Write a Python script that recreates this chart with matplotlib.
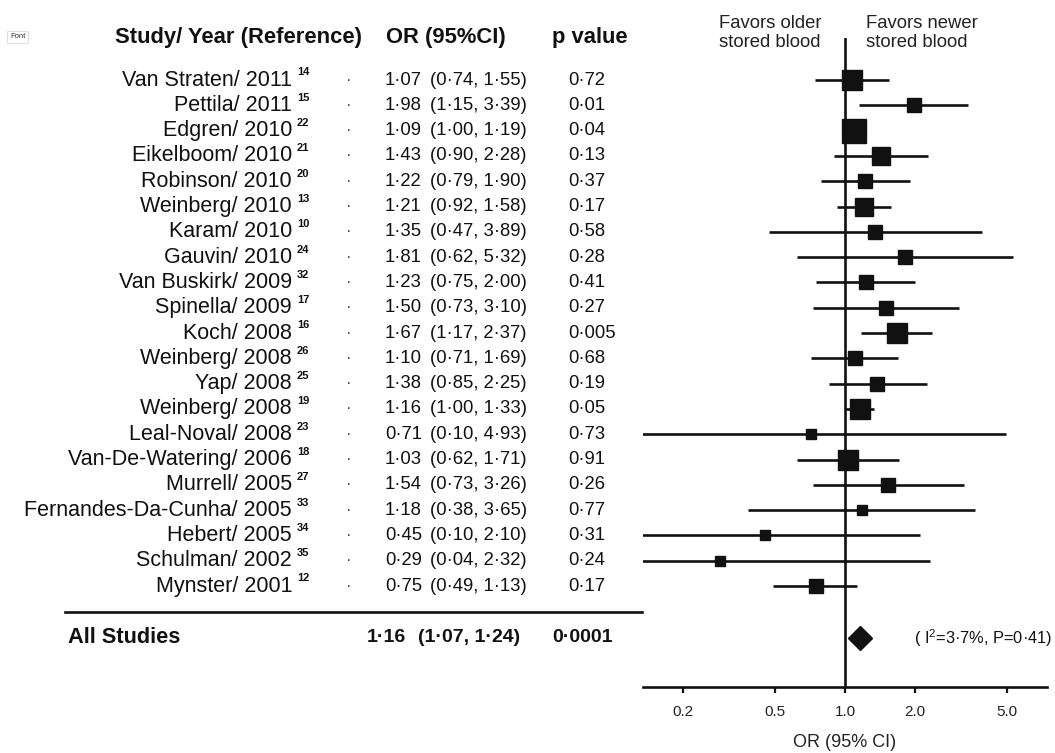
import matplotlib
matplotlib.use("Agg")
import matplotlib.pyplot as plt
import matplotlib.transforms as mtransforms
from matplotlib.lines import Line2D
import numpy as np

plt.rcParams['font.family'] = ['Liberation Sans', 'DejaVu Sans']
plt.rcParams['mathtext.fontset'] = 'custom'
plt.rcParams['mathtext.rm'] = 'Liberation Sans'
plt.rcParams['mathtext.it'] = 'Liberation Sans:italic'
plt.rcParams['mathtext.bf'] = 'Liberation Sans:bold'

# ---- data -------------------------------------------------------------
studies = ["Van Straten/ 2011", "Pettila/ 2011", "Edgren/ 2010", "Eikelboom/ 2010",
           "Robinson/ 2010", "Weinberg/ 2010", "Karam/ 2010", "Gauvin/ 2010",
           "Van Buskirk/ 2009", "Spinella/ 2009", "Koch/ 2008", "Weinberg/ 2008",
           "Yap/ 2008", "Weinberg/ 2008", "Leal-Noval/ 2008", "Van-De-Watering/ 2006",
           "Murrell/ 2005", "Fernandes-Da-Cunha/ 2005", "Hebert/ 2005",
           "Schulman/ 2002", "Mynster/ 2001"]
refs = ["14", "15", "22", "21", "20", "13", "10", "24", "32", "17", "16", "26",
        "25", "19", "23", "18", "27", "33", "34", "35", "12"]
odds = [1.07, 1.98, 1.09, 1.43, 1.22, 1.21, 1.35, 1.81, 1.23, 1.50, 1.67, 1.10,
        1.38, 1.16, 0.71, 1.03, 1.54, 1.18, 0.45, 0.29, 0.75]
ci_low = [0.74, 1.15, 1.00, 0.90, 0.79, 0.92, 0.47, 0.62, 0.75, 0.73, 1.17, 0.71,
          0.85, 1.00, 0.10, 0.62, 0.73, 0.38, 0.10, 0.04, 0.49]
ci_high = [1.55, 3.39, 1.19, 2.28, 1.90, 1.58, 3.89, 5.32, 2.00, 3.10, 2.37, 1.69,
           2.25, 1.33, 4.93, 1.71, 3.26, 3.65, 2.10, 2.32, 1.13]
p_values = ["0·72", "0·01", "0·04", "0·13", "0·37", "0·17", "0·58", "0·28", "0·41",
            "0·27", "0·005", "0·68", "0·19", "0·05", "0·73", "0·91", "0·26", "0·77",
            "0·31", "0·24", "0·17"]
# approximate study weights (%)
weights = [7.3, 4.1, 10.5, 6.6, 3.6, 5.9, 3.6, 4.1, 3.6, 4.1, 7.3, 3.6, 4.1, 7.3,
           1.8, 8.1, 4.1, 2.2, 2.2, 1.8, 4.1]

pooled_or, pooled_low, pooled_high = 1.16, 1.07, 1.24
pooled_p = "0·0001"
heterogeneity = "( I$^{2}$=3·7%, P=0·41)"
x_ticks = [0.2, 0.5, 1.0, 2.0, 5.0]
x_ticklabels = ["0.2", "0.5", "1.0", "2.0", "5.0"]


def fmt(v):
    return f"{v:.2f}".replace(".", "·")


# ---- figure -----------------------------------------------------------
W, H = 1055, 753
fig = plt.figure(figsize=(W / 100, H / 100), dpi=100)
fig.patch.set_facecolor("white")


def fx(px):
    return px / W


def fy(py):
    return 1 - py / H


ax_left, ax_right, ax_top, ax_bot = 643, 1047, 38, 687
ax = fig.add_axes([fx(ax_left), fy(ax_bot), (ax_right - ax_left) / W, (ax_bot - ax_top) / H])
ax.set_xscale("log")
ax.set_xlim(1 / 7.43, 7.43)
ax.set_ylim(23.99, -1.66)
ax.patch.set_alpha(0)
for s in ["top", "right", "left"]:
    ax.spines[s].set_visible(False)
ax.spines["bottom"].set_linewidth(1.9)
ax.spines["bottom"].set_color("#111111")
ax.set_yticks([])
ax.set_xticks(x_ticks)
ax.set_xticklabels(x_ticklabels)
ax.xaxis.set_minor_locator(matplotlib.ticker.NullLocator())
ax.tick_params(axis="x", direction="out", length=4, width=1.6, color="#111111",
               labelsize=11, pad=9, labelcolor="#222222")
ax.set_xlabel("OR (95% CI)", fontsize=13, color="#222222", labelpad=11)

ax.axvline(1.0, color="#111111", lw=1.9, zorder=1)

rows = np.arange(len(studies))
ink = "#111111"
for i in rows:
    ax.plot([ci_low[i], ci_high[i]], [i, i], color=ink, lw=1.9, solid_capstyle="butt",
            zorder=2, clip_on=True)
    side = 7.4 * np.sqrt(weights[i]) * 0.72
    ax.plot([odds[i]], [i], marker="s", ms=side - 0.6, color=ink, mec=ink, mew=1.0,
            zorder=3)

summary_row = 22.05
ax.plot([pooled_or], [summary_row], marker="D", ms=12, color=ink, zorder=3)

# ---- table columns ----------------------------------------------------
tr = mtransforms.blended_transform_factory(fig.transFigure, ax.transData)
fig.text(fx(914), summary_row, heterogeneity, transform=tr, ha="left", va="center",
         fontsize=11.8, color="#111111")

txt_col = "#111111"
for i in rows:
    fig.text(fx(292), i, studies[i], transform=tr, ha="right", va="center",
             fontsize=15.5, color=txt_col)
    fig.text(fx(297), i - 0.3, refs[i], transform=tr, ha="left", va="center",
             fontsize=8, fontweight="bold", color=txt_col)
    fig.text(fx(349), i, "·", transform=tr, ha="center", va="center",
             fontsize=12, color="#444444")
    fig.text(fx(385), i, fmt(odds[i]), transform=tr, ha="left", va="center",
             fontsize=13.3, color=txt_col)
    fig.text(fx(430), i, f"({fmt(ci_low[i])}, {fmt(ci_high[i])})", transform=tr,
             ha="left", va="center", fontsize=13.3, color=txt_col)
    fig.text(fx(568), i, p_values[i], transform=tr, ha="left", va="center",
             fontsize=13.3, color=txt_col)

# headers
hy = -1.68
fig.text(fx(115), hy, "Study/ Year (Reference)", transform=tr, ha="left", va="center",
         fontsize=15.8, fontweight="bold", color=txt_col)
fig.text(fx(386), hy, "OR (95%CI)", transform=tr, ha="left", va="center",
         fontsize=15.8, fontweight="bold", color=txt_col)
fig.text(fx(552), hy, "p value", transform=tr, ha="left", va="center",
         fontsize=15.8, fontweight="bold", color=txt_col)

fig.text(fx(719), fy(33), "Favors older\nstored blood", ha="left", va="center",
         fontsize=13.3, linespacing=1.2, color="#222222")
fig.text(fx(866), fy(33), "Favors newer\nstored blood", ha="left", va="center",
         fontsize=13.3, linespacing=1.2, color="#222222")

# separator and pooled row
fig.add_artist(Line2D([fx(65), fx(642)], [21.03, 21.03], transform=tr, color=ink, lw=1.9))
fig.text(fx(68), summary_row, "All Studies", transform=tr, ha="left", va="center",
         fontsize=15.7, fontweight="bold", color=txt_col)
fig.text(fx(367), summary_row, fmt(pooled_or), transform=tr, ha="left", va="center",
         fontsize=14, fontweight="bold", color=txt_col)
fig.text(fx(418), summary_row, f"({fmt(pooled_low)}, {fmt(pooled_high)})", transform=tr,
         ha="left", va="center", fontsize=14, fontweight="bold", color=txt_col)
fig.text(fx(552), summary_row, pooled_p, transform=tr, ha="left", va="center",
         fontsize=14, fontweight="bold", color=txt_col)

# small toolbar label in the corner
fig.text(fx(10), fy(37), "Font", ha="left", va="center", fontsize=5.5, color="#333333",
         bbox=dict(boxstyle="square,pad=0.35", fc="white", ec="#d8d8d8", lw=0.6))

fig.savefig("out.png", dpi=100, facecolor="white")
